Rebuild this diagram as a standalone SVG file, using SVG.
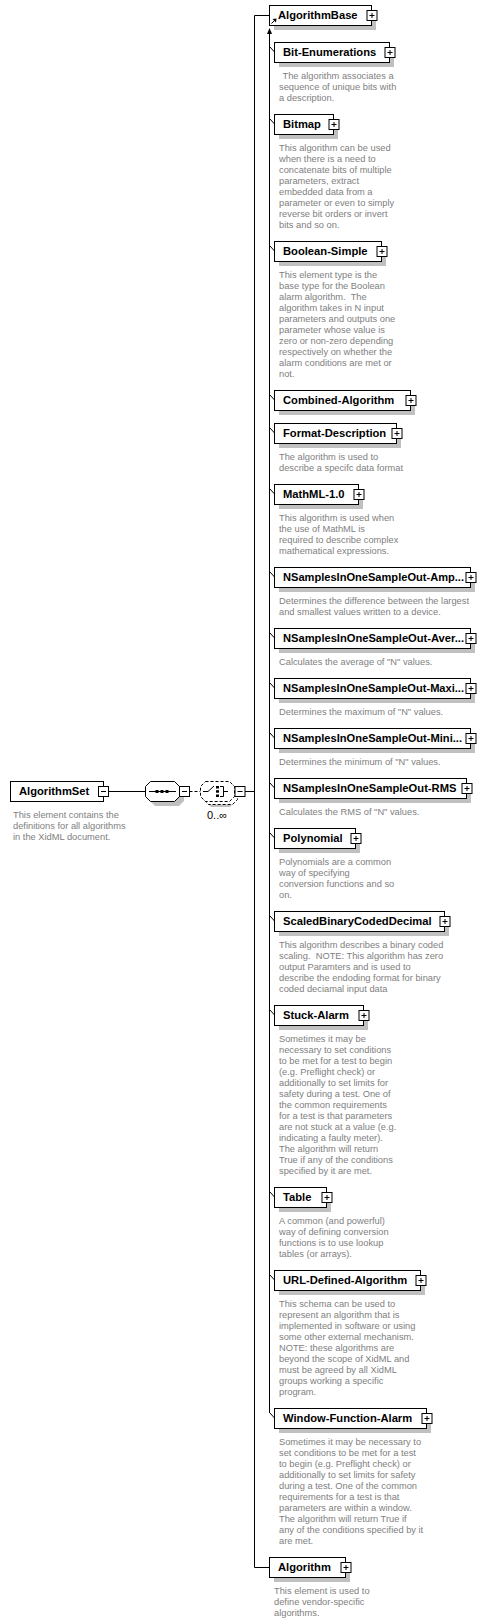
<svg xmlns="http://www.w3.org/2000/svg" width="488" height="1622" viewBox="0 0 488 1622">
<style>
.bg{fill:#ffffff}
.sh{fill:#c0c0c0}
.bx{fill:#ffffff;stroke:#000;stroke-width:1}
.pb{fill:#ffffff;stroke:#000;stroke-width:1}
.pl{stroke:#000;stroke-width:1;fill:none}
.ln{stroke:#000;stroke-width:1;fill:none}
.ds{stroke:#000;stroke-width:1;fill:none;stroke-dasharray:3 2}
.lb{font-family:"Liberation Sans",Arial,sans-serif;font-weight:bold;font-size:11.2px;fill:#000}
.d{font-family:"Liberation Sans",Arial,sans-serif;font-size:9.3px;fill:#808080}
.oc{font-family:"Liberation Sans",Arial,sans-serif;font-size:11px;fill:#000}
</style>
<defs>
<g id="plus"><rect class="pb" x="-4.5" y="-5" width="10" height="10"/><path class="pl" d="M-2,0H3M0.5,-2.5V2.5"/></g>
<g id="minus"><rect class="pb" x="-4.5" y="-5" width="10" height="10"/><path class="pl" d="M-2,0H3"/></g>
</defs>
<rect class="bg" x="0" y="0" width="488" height="1622"/>

<g id="connectors">
<path class="ln" d="M108.5,791.5H145.5"/>
<path class="ds" d="M189.5,791.5H200.5"/>
<path class="ln" d="M244.5,791.5H254.5"/>
<path class="ln" d="M254.5,15.5V1567.5M254.5,15.5H269.5M254.5,1567.5H269.5"/>
<path class="ln" d="M269.5,33V1413"/>
<polygon points="269.5,28 267,34 272,34" fill="#000"/>
<path class="ln" d="M270,47L274.5,52M270,119L274.5,124M270,246L274.5,251M270,395L274.5,400M270,428L274.5,433M270,489L274.5,494M270,572L274.5,577M270,633L274.5,638M270,683L274.5,688M270,733L274.5,738M270,783L274.5,788M270,833L274.5,838M270,916L274.5,921M270,1010L274.5,1015M270,1192L274.5,1197M270,1275L274.5,1280M270,1413L274.5,1418"/>
</g>

<g id="AlgorithmSet">
<rect class="bx" x="10.5" y="781.5" width="93" height="20"/>
<text class="lb" x="19" y="795">AlgorithmSet</text>
<use href="#minus" x="103" y="791.5"/>
<text class="d" x="13" y="818"><tspan x="13">This element contains the</tspan><tspan x="13" dy="11">definitions for all algorithms</tspan><tspan x="13" dy="11">in the XidML document.</tspan></text>
</g>

<g id="sequence">
<polygon class="sh" points="155,786 179,786 184,791 184,801 179,806 155,806 150,801 150,791"/>
<polygon class="bx" points="150.5,781.5 174.5,781.5 179.5,786.5 179.5,796.5 174.5,801.5 150.5,801.5 145.5,796.5 145.5,786.5"/>
<path class="ln" d="M149,791.5H176"/>
<rect x="155.5" y="790" width="3" height="3" fill="#000"/>
<rect x="160.5" y="790" width="3" height="3" fill="#000"/>
<rect x="165.5" y="790" width="3" height="3" fill="#000"/>
<use href="#minus" x="184" y="791.5"/>
</g>

<g id="choice">
<polygon class="sh" points="211,787 230,787 235,792 235,802 230,807 211,807 206,802 206,792"/>
<polygon fill="#fff" stroke="#000" stroke-dasharray="3 2" points="208.5,784.5 232.5,784.5 237.5,789.5 237.5,799.5 232.5,804.5 208.5,804.5 203.5,799.5 203.5,789.5"/>
<polygon fill="#fff" stroke="#000" stroke-dasharray="3 2" points="205.5,781.5 229.5,781.5 234.5,786.5 234.5,796.5 229.5,801.5 205.5,801.5 200.5,796.5 200.5,786.5"/>
<path class="ln" d="M203,791.5H208L214,786"/>
<rect x="216" y="786" width="3" height="2.5" fill="#000"/>
<rect x="216" y="790.2" width="3" height="2.5" fill="#000"/>
<rect x="216" y="794.5" width="3" height="2.5" fill="#000"/>
<path class="ln" d="M220,786.5H223.5V796.5H220M223.5,791.5H228"/>
<use href="#minus" x="239.5" y="791.5"/>
<text class="oc" x="217" y="819" text-anchor="middle">0..∞</text>
</g>

<g id="AlgorithmBase">
<rect class="sh" x="274" y="10" width="102" height="20"/>
<rect class="bx" x="269.5" y="5.5" width="102" height="20"/>
<text class="lb" x="278" y="19">AlgorithmBase</text>
<path class="ln" d="M271.5,23.5L274.5,20.5"/>
<polygon points="276.5,18.5 272.5,19 276,22.5" fill="#000"/>
<use href="#plus" x="371.5" y="15.5"/>
</g>

<g id="Bit-Enumerations">
<rect class="sh" x="279" y="47" width="115" height="20"/>
<rect class="bx" x="274.5" y="42.5" width="115" height="20"/>
<text class="lb" x="283" y="56">Bit-Enumerations</text>
<use href="#plus" x="389.5" y="52.5"/>
<text class="d" x="282.5" y="79"><tspan x="282.5">The algorithm associates a</tspan><tspan x="279" dy="11">sequence of unique bits with</tspan><tspan x="279" dy="11">a description.</tspan></text>
</g>

<g id="Bitmap">
<rect class="sh" x="279" y="119" width="59" height="20"/>
<rect class="bx" x="274.5" y="114.5" width="59" height="20"/>
<text class="lb" x="283" y="128">Bitmap</text>
<use href="#plus" x="333.5" y="124.5"/>
<text class="d" x="279" y="151"><tspan x="279">This algorithm can be used</tspan><tspan x="279" dy="11">when there is a need to</tspan><tspan x="279" dy="11">concatenate bits of multiple</tspan><tspan x="279" dy="11">parameters, extract</tspan><tspan x="279" dy="11">embedded data from a</tspan><tspan x="279" dy="11">parameter or even to simply</tspan><tspan x="279" dy="11">reverse bit orders or invert</tspan><tspan x="279" dy="11">bits and so on.</tspan></text>
</g>

<g id="Boolean-Simple">
<rect class="sh" x="279" y="246" width="107" height="20"/>
<rect class="bx" x="274.5" y="241.5" width="107" height="20"/>
<text class="lb" x="283" y="255">Boolean-Simple</text>
<use href="#plus" x="381.5" y="251.5"/>
<text class="d" x="279" y="278"><tspan x="279">This element type is the</tspan><tspan x="279" dy="11">base type for the Boolean</tspan><tspan x="279" dy="11">alarm algorithm.&#160; The</tspan><tspan x="279" dy="11">algorithm takes in N input</tspan><tspan x="279" dy="11">parameters and outputs one</tspan><tspan x="279" dy="11">parameter whose value is</tspan><tspan x="279" dy="11">zero or non-zero depending</tspan><tspan x="279" dy="11">respectively on whether the</tspan><tspan x="279" dy="11">alarm conditions are met or</tspan><tspan x="279" dy="11">not.</tspan></text>
</g>

<g id="Combined-Algorithm">
<rect class="sh" x="279" y="395" width="136" height="20"/>
<rect class="bx" x="274.5" y="390.5" width="136" height="20"/>
<text class="lb" x="283" y="404">Combined-Algorithm</text>
<use href="#plus" x="410.5" y="400.5"/>
</g>

<g id="Format-Description">
<rect class="sh" x="279" y="428" width="122" height="20"/>
<rect class="bx" x="274.5" y="423.5" width="122" height="20"/>
<text class="lb" x="283" y="437">Format-Description</text>
<use href="#plus" x="396.5" y="433.5"/>
<text class="d" x="279" y="460"><tspan x="279">The algorithm is used to</tspan><tspan x="279" dy="11">describe a specifc data format</tspan></text>
</g>

<g id="MathML-1.0">
<rect class="sh" x="279" y="489" width="84" height="20"/>
<rect class="bx" x="274.5" y="484.5" width="84" height="20"/>
<text class="lb" x="283" y="498">MathML-1.0</text>
<use href="#plus" x="358.5" y="494.5"/>
<text class="d" x="279" y="521"><tspan x="279">This algorithm is used when</tspan><tspan x="279" dy="11">the use of MathML is</tspan><tspan x="279" dy="11">required to describe complex</tspan><tspan x="279" dy="11">mathematical expressions.</tspan></text>
</g>

<g id="NSamplesInOneSampleOut-Amp">
<rect class="sh" x="279" y="572" width="196" height="20"/>
<rect class="bx" x="274.5" y="567.5" width="196" height="20"/>
<text class="lb" x="283" y="581" textLength="181" lengthAdjust="spacingAndGlyphs">NSamplesInOneSampleOut-Amp...</text>
<use href="#plus" x="470.5" y="577.5"/>
<text class="d" x="279" y="604"><tspan x="279">Determines the difference between the largest</tspan><tspan x="279" dy="11">and smallest values written to a device.</tspan></text>
</g>

<g id="NSamplesInOneSampleOut-Aver">
<rect class="sh" x="279" y="633" width="196" height="20"/>
<rect class="bx" x="274.5" y="628.5" width="196" height="20"/>
<text class="lb" x="283" y="642" textLength="181" lengthAdjust="spacingAndGlyphs">NSamplesInOneSampleOut-Aver...</text>
<use href="#plus" x="470.5" y="638.5"/>
<text class="d" x="279" y="665">Calculates the average of "N" values.</text>
</g>

<g id="NSamplesInOneSampleOut-Maxi">
<rect class="sh" x="279" y="683" width="196" height="20"/>
<rect class="bx" x="274.5" y="678.5" width="196" height="20"/>
<text class="lb" x="283" y="692" textLength="181" lengthAdjust="spacingAndGlyphs">NSamplesInOneSampleOut-Maxi...</text>
<use href="#plus" x="470.5" y="688.5"/>
<text class="d" x="279" y="715">Determines the maximum of "N" values.</text>
</g>

<g id="NSamplesInOneSampleOut-Mini">
<rect class="sh" x="279" y="733" width="196" height="20"/>
<rect class="bx" x="274.5" y="728.5" width="196" height="20"/>
<text class="lb" x="283" y="742" textLength="179" lengthAdjust="spacingAndGlyphs">NSamplesInOneSampleOut-Mini...</text>
<use href="#plus" x="470.5" y="738.5"/>
<text class="d" x="279" y="765">Determines the minimum of "N" values.</text>
</g>

<g id="NSamplesInOneSampleOut-RMS">
<rect class="sh" x="279" y="783" width="192" height="20"/>
<rect class="bx" x="274.5" y="778.5" width="192" height="20"/>
<text class="lb" x="283" y="792">NSamplesInOneSampleOut-RMS</text>
<use href="#plus" x="466.5" y="788.5"/>
<text class="d" x="279" y="815">Calculates the RMS of "N" values.</text>
</g>

<g id="Polynomial">
<rect class="sh" x="279" y="833" width="81" height="20"/>
<rect class="bx" x="274.5" y="828.5" width="81" height="20"/>
<text class="lb" x="283" y="842">Polynomial</text>
<use href="#plus" x="355.5" y="838.5"/>
<text class="d" x="279" y="865"><tspan x="279">Polynomials are a common</tspan><tspan x="279" dy="11">way of specifying</tspan><tspan x="279" dy="11">conversion functions and so</tspan><tspan x="279" dy="11">on.</tspan></text>
</g>

<g id="ScaledBinaryCodedDecimal">
<rect class="sh" x="279" y="916" width="170" height="20"/>
<rect class="bx" x="274.5" y="911.5" width="170" height="20"/>
<text class="lb" x="283" y="925">ScaledBinaryCodedDecimal</text>
<use href="#plus" x="444.5" y="921.5"/>
<text class="d" x="279" y="948"><tspan x="279">This algorithm describes a binary coded</tspan><tspan x="279" dy="11">scaling.&#160; NOTE: This algorithm has zero</tspan><tspan x="279" dy="11">output Paramters and is used to</tspan><tspan x="279" dy="11">describe the endoding format for binary</tspan><tspan x="279" dy="11">coded deciamal input data</tspan></text>
</g>

<g id="Stuck-Alarm">
<rect class="sh" x="279" y="1010" width="89" height="20"/>
<rect class="bx" x="274.5" y="1005.5" width="89" height="20"/>
<text class="lb" x="283" y="1019">Stuck-Alarm</text>
<use href="#plus" x="363.5" y="1015.5"/>
<text class="d" x="279" y="1042"><tspan x="279">Sometimes it may be</tspan><tspan x="279" dy="11">necessary to set conditions</tspan><tspan x="279" dy="11">to be met for a test to begin</tspan><tspan x="279" dy="11">(e.g. Preflight check) or</tspan><tspan x="279" dy="11">additionally to set limits for</tspan><tspan x="279" dy="11">safety during a test. One of</tspan><tspan x="279" dy="11">the common requirements</tspan><tspan x="279" dy="11">for a test is that parameters</tspan><tspan x="279" dy="11">are not stuck at a value (e.g.</tspan><tspan x="279" dy="11">indicating a faulty meter).</tspan><tspan x="279" dy="11">The algorithm will return</tspan><tspan x="279" dy="11">True if any of the conditions</tspan><tspan x="279" dy="11">specified by it are met.</tspan></text>
</g>

<g id="Table">
<rect class="sh" x="279" y="1192" width="52" height="20"/>
<rect class="bx" x="274.5" y="1187.5" width="52" height="20"/>
<text class="lb" x="283" y="1201">Table</text>
<use href="#plus" x="326.5" y="1197.5"/>
<text class="d" x="279" y="1224"><tspan x="279">A common (and powerful)</tspan><tspan x="279" dy="11">way of defining conversion</tspan><tspan x="279" dy="11">functions is to use lookup</tspan><tspan x="279" dy="11">tables (or arrays).</tspan></text>
</g>

<g id="URL-Defined-Algorithm">
<rect class="sh" x="279" y="1275" width="146" height="20"/>
<rect class="bx" x="274.5" y="1270.5" width="146" height="20"/>
<text class="lb" x="283" y="1284">URL-Defined-Algorithm</text>
<use href="#plus" x="420.5" y="1280.5"/>
<text class="d" x="279" y="1307"><tspan x="279">This schema can be used to</tspan><tspan x="279" dy="11">represent an algorithm that is</tspan><tspan x="279" dy="11">implemented in software or using</tspan><tspan x="279" dy="11">some other external mechanism.</tspan><tspan x="279" dy="11">NOTE: these algorithms are</tspan><tspan x="279" dy="11">beyond the scope of XidML and</tspan><tspan x="279" dy="11">must be agreed by all XidML</tspan><tspan x="279" dy="11">groups working a specific</tspan><tspan x="279" dy="11">program.</tspan></text>
</g>

<g id="Window-Function-Alarm">
<rect class="sh" x="279" y="1413" width="152" height="20"/>
<rect class="bx" x="274.5" y="1408.5" width="152" height="20"/>
<text class="lb" x="283" y="1422">Window-Function-Alarm</text>
<use href="#plus" x="426.5" y="1418.5"/>
<text class="d" x="279" y="1445"><tspan x="279">Sometimes it may be necessary to</tspan><tspan x="279" dy="11">set conditions to be met for a test</tspan><tspan x="279" dy="11">to begin (e.g. Preflight check) or</tspan><tspan x="279" dy="11">additionally to set limits for safety</tspan><tspan x="279" dy="11">during a test. One of the common</tspan><tspan x="279" dy="11">requirements for a test is that</tspan><tspan x="279" dy="11">parameters are within a window.</tspan><tspan x="279" dy="11">The algorithm will return True if</tspan><tspan x="279" dy="11">any of the conditions specified by it</tspan><tspan x="279" dy="11">are met.</tspan></text>
</g>

<g id="Algorithm">
<rect class="sh" x="274" y="1562" width="76" height="20"/>
<rect class="bx" x="269.5" y="1557.5" width="76" height="20"/>
<text class="lb" x="278" y="1571">Algorithm</text>
<use href="#plus" x="345.5" y="1567.5"/>
<text class="d" x="274" y="1594"><tspan x="274">This element is used to</tspan><tspan x="274" dy="11">define vendor-specific</tspan><tspan x="274" dy="11">algorithms.</tspan></text>
</g>
</svg>
